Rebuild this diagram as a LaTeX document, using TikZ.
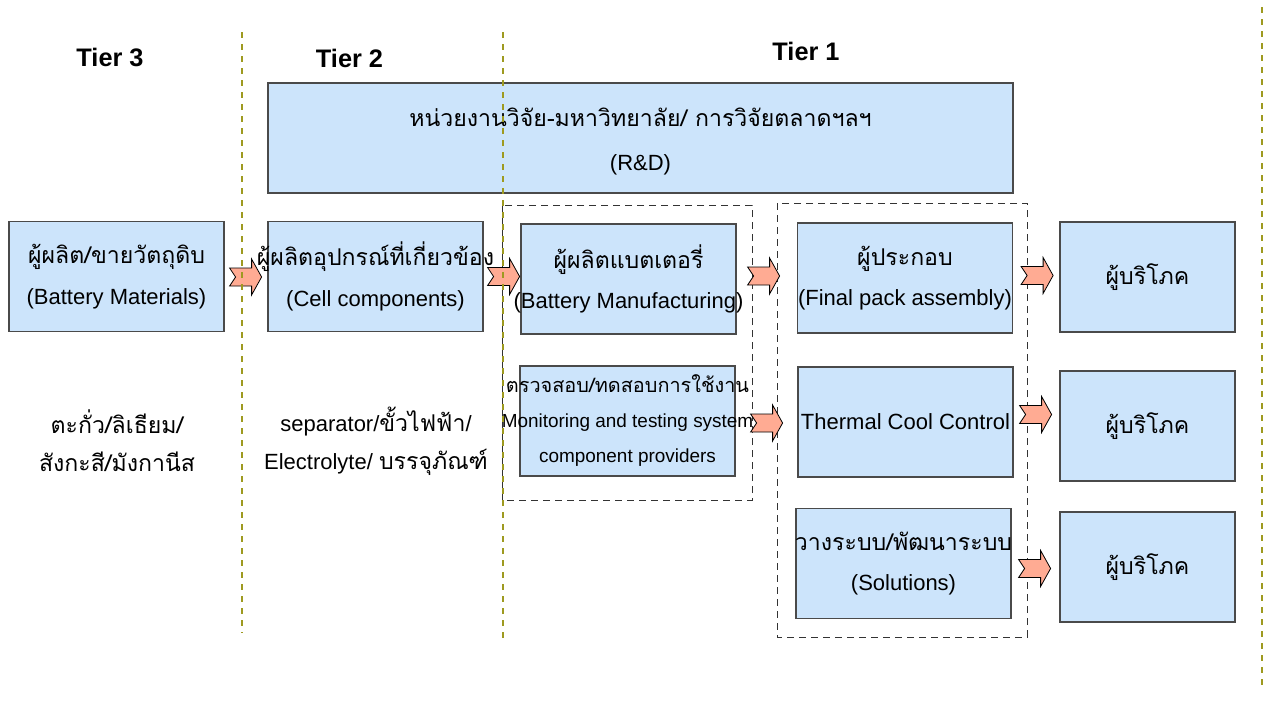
\documentclass[tikz,border=0pt]{standalone}
\usepackage{fontspec}
\setmainfont{Liberation Sans}
\newfontfamily\thai[Script=Thai,Scale=1.05]{Loma}
\usetikzlibrary{calc}
\definecolor{boxfill}{HTML}{CCE4FB}
\definecolor{boxline}{HTML}{4A4A4A}
\definecolor{arrfill}{HTML}{FFAB93}
\definecolor{tierline}{HTML}{9E9A20}
\newcommand\zl[1]{\makebox[0pt]{#1}}
\begin{document}
\begin{tikzpicture}[x=0.75pt,y=-0.75pt,
  box/.style={draw=boxline, line width=0.9pt, fill=boxfill, minimum width=215*0.75pt, minimum height=110*0.75pt, inner sep=0pt, align=center, font=\fontsize{16.5}{30.5}\selectfont},
  cbox/.style={box, minimum width=175*0.75pt},
  grp/.style={draw=black!80, line width=0.75pt, dash pattern=on 5.25pt off 3.75pt},
  tier/.style={draw=tierline, line width=1pt, dash pattern=on 4.5pt off 4.5pt},
  tierlab/.style={font=\bfseries\fontsize{19}{22}\selectfont, inner sep=0pt},
  note/.style={align=center, inner sep=0pt, font=\fontsize{16.5}{28.5}\selectfont},
  arr/.style={draw=black, line width=0.6pt, fill=arrfill, line join=miter},
  pics/barr/.style={code={\path[arr] (0,-9) -- (22,-9) -- (22,-18) -- (32,0) -- (22,18) -- (22,9) -- (0,9) -- (6,0) -- cycle;}}
]
\useasboundingbox (0,0) rectangle (1264,700);

% tier labels
\node[tierlab] (t3) at (110,57) {Tier 3};
\node[tierlab] (t2) at (349.5,58) {Tier 2};
\node[tierlab] (t1) at (806,51) {Tier 1};

% group dashed boxes
\draw[grp] (502,205) rectangle (752,500);
\draw[grp] (777,203) rectangle (1027,637);

% R&D
\node[box, minimum width=745*0.75pt] (rd) at (640.5,138) {};
\node[align=center, inner sep=0pt, font=\fontsize{16.5}{33}\selectfont] (rdt) at ($(rd.center)+(0,4)$) {\thai หน่วยงานวิจัย-มหาวิทยาลัย/ การวิจัยตลาดฯลฯ\\(R\&D)};

% boxes
\node[box] (b1) at (116.5,276.5) {\zl{\thai ผู้ผลิต/ขายวัตถุดิบ}\\\zl{(Battery Materials)}};
\node[box] (b2) at (375.5,276.5) {\zl{\thai ผู้ผลิตอุปกรณ์ที่เกี่ยวข้อง}\\\zl{(Cell components)}};
\node[box] (b3) at (628.5,279) {\zl{\thai ผู้ผลิตแบตเตอรี่}\\\zl{(Battery Manufacturing)}};
\node[box, font=\fontsize{14.2}{26.25}\selectfont] (b4) at (627.5,421) {\zl{\thai ตรวจสอบ/ทดสอบการใช้งาน}\\\zl{Monitoring and testing system}\\\zl{component providers}};
\node[box] (b5) at (905,278) {\zl{\thai ผู้ประกอบ}\\\zl{(Final pack assembly)}};
\node[box] (b6) at (905.5,422) {\zl{Thermal Cool Control}};
\node[box] (b7) at (903.5,563.5) {\zl{\thai วางระบบ/พัฒนาระบบ}\\\zl{(Solutions)}};
\node[cbox] (c1) at (1147.5,277) {\thai ผู้บริโภค};
\node[cbox] (c2) at (1147.5,426) {\thai ผู้บริโภค};
\node[cbox] (c3) at (1147.5,567) {\thai ผู้บริโภค};

% notes
\node[note] (n3) at (117,441) {\thai ตะกั่ว/ลิเธียม/\\\thai สังกะสี/มังกานีส};
\node[note] (n2) at (376,441) {separator/{\thai ขั้วไฟฟ้า}/\\Electrolyte/ {\thai บรรจุภัณฑ์}};

% block arrows
\path (b1.east) ++(5,0.5) pic {barr};
\path (b2.east) ++(4,0) pic {barr};
\path (b3.east) ++(11,-3) pic {barr};
\path (b5.east) ++(8,-2.5) pic {barr};
\path (b4.east) ++(15,2) pic {barr};
\path (b6.east) ++(6,-7.5) pic {barr};
\path (b7.east) ++(7,5) pic {barr};

% tier separators
\draw[tier] (242,32) -- (242,633);
\draw[tier] (503,32) -- (503,640);
\draw[tier] (1262,7) -- (1262,690);
\end{tikzpicture}
\end{document}
